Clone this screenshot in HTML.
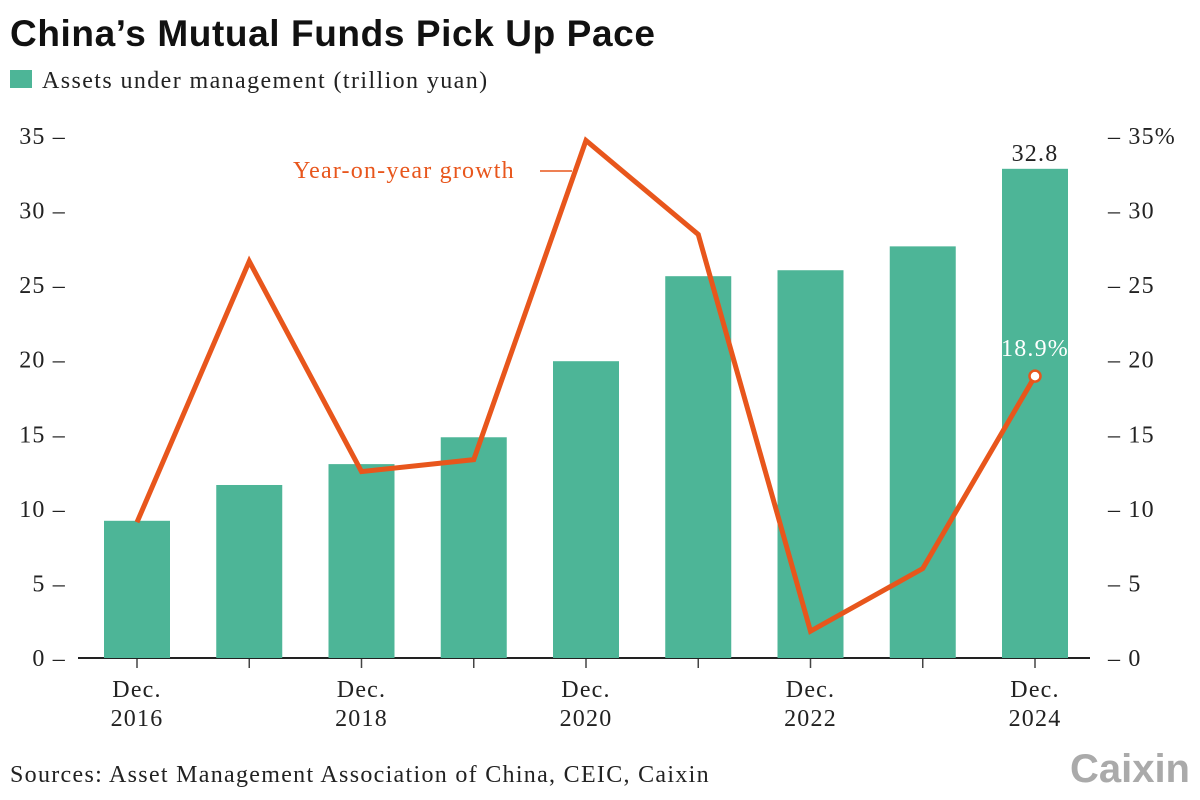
<!DOCTYPE html>
<html><head><meta charset="utf-8"><style>
body{margin:0;background:#fff;width:1200px;height:800px;overflow:hidden}
svg{display:block}
.s{font-family:"Liberation Serif",serif;font-size:24px;fill:#222;letter-spacing:1.2px}
</style></head><body>
<svg id="chart" width="1200" height="800">
<text x="10" y="46" font-family="Liberation Sans,sans-serif" font-weight="bold" font-size="37" fill="#111" letter-spacing="0.6">China’s Mutual Funds Pick Up Pace</text>
<rect x="10" y="70" width="22" height="18" fill="#4db597"/>
<text x="42" y="88" class="s" style="letter-spacing:1.4px">Assets under management (trillion yuan)</text>
<g id="axes"></g><g id="bars"></g><g id="line"></g>
<text x="293" y="178" class="s" style="fill:#e8561c">Year-on-year growth</text>
<line x1="540" y1="171" x2="572" y2="171" stroke="#e8561c" stroke-width="1.5"/>
<text x="10" y="782" class="s" style="letter-spacing:1.3px">Sources: Asset Management Association of China, CEIC, Caixin</text>
<text x="1190" y="782" text-anchor="end" font-family="Liberation Sans,sans-serif" font-weight="bold" font-size="40" fill="#aaa">Caixin</text>
</svg>
<script>
const years=[2016,2017,2018,2019,2020,2021,2022,2023,2024];
const assets=[9.2,11.6,13.0,14.8,19.9,25.6,26.0,27.6,32.8];
const growth=[9.1,26.6,12.5,13.3,34.7,28.4,1.8,6.0,18.9];
const leftTicks=[0,5,10,15,20,25,30,35];
const rightTicks=['0','5','10','15','20','25','30','35%'];
const NS='http://www.w3.org/2000/svg';
const y=v=>658-v*522/35;
const x=i=>137+i*112.25;
function mk(t,a,p){const e=document.createElementNS(NS,t);for(const k in a)e.setAttribute(k,a[k]);p.appendChild(e);return e;}
const ax=document.getElementById('axes'),bg=document.getElementById('bars'),lg=document.getElementById('line');
leftTicks.forEach((v,i)=>{
 const t=mk('text',{x:66,y:y(v)+8,'text-anchor':'end',class:'s'},ax);t.textContent=v+' –';
 
 
 const r=mk('text',{x:1108,y:y(v)+8,class:'s'},ax);r.textContent='– '+rightTicks[i];
 
 
});
assets.forEach((v,i)=>{
 const b=mk('rect',{x:x(i)-33,y:y(v),width:66,height:658-y(v),fill:'#4db597'},bg);
 
 
 const tk=mk('line',{x1:x(i),y1:658,x2:x(i),y2:668,stroke:'#444','stroke-width':1.5},ax);
 
 
 if(i%2==0){
  const t=mk('text',{x:x(i),y:697,'text-anchor':'middle',class:'s'},ax);
  
  
  mk('tspan',{x:x(i)},t).textContent='Dec.';
  mk('tspan',{x:x(i),dy:29},t).textContent=years[i];
 }
});
const base=mk('line',{x1:78,y1:658,x2:1090,y2:658,stroke:'#222','stroke-width':2},ax);


const last=assets.length-1;
const vl=mk('text',{x:x(last),y:y(assets[last])-8,'text-anchor':'middle',class:'s'},bg);vl.textContent=assets[last].toFixed(1);


const pl=mk('polyline',{points:growth.map((g,i)=>x(i)+','+y(g)).join(' '),fill:'none',stroke:'#e8561c','stroke-width':5,'stroke-linejoin':'miter'},lg);


const c=mk('circle',{cx:x(last),cy:y(growth[last]),r:5.5,fill:'#fff',stroke:'#e8561c','stroke-width':2.5},lg);


const gl=mk('text',{x:x(last),y:y(growth[last])-20,'text-anchor':'middle',class:'s',style:'fill:#fff'},lg);gl.textContent=growth[last]+'%';


</script>
</body></html>
